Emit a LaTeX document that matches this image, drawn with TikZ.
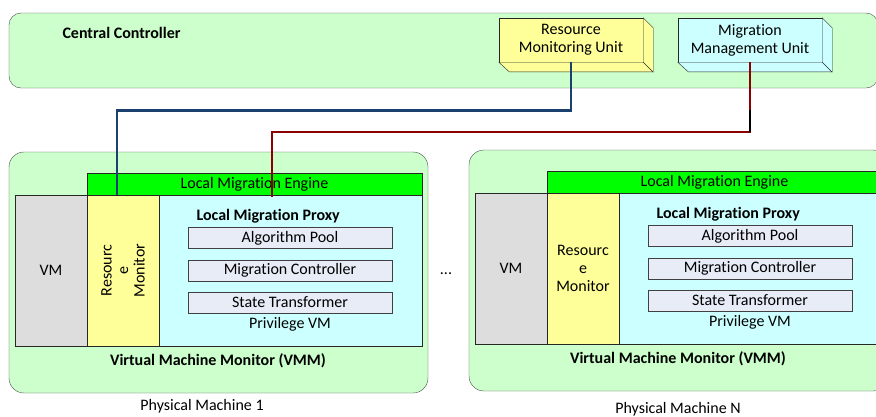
\documentclass[tikz,border=0pt]{standalone}
\usepackage{fontspec}
\setmainfont{Carlito}[Ligatures={NoCommon,NoContextual}, Contextuals=NoAlternate]
\definecolor{panelgreen}{HTML}{CCFFCC}
\definecolor{enginegreen}{HTML}{00FF00}
\definecolor{paleyellow}{HTML}{FFFF99}
\definecolor{palecyan}{HTML}{CCFFFF}
\definecolor{vmgray}{HTML}{DDDDDD}
\definecolor{poolblue}{HTML}{E7ECF7}
\definecolor{wireblue}{HTML}{1B3F6E}
\definecolor{wirered}{HTML}{8B0000}
\tikzstyle{box} = [draw=black!85, rectangle, inner sep=0pt, align=center]
\tikzstyle{panel} = [draw=black!70, fill=panelgreen, rectangle, inner sep=0pt]
\tikzstyle{part} = [box, fill=poolblue, draw=black!75, minimum width=204pt, minimum height=21pt]
\tikzstyle{wire} = [line width=2.8pt]

\begin{document}
\begin{tikzpicture}[x=1pt, y=-1pt, font=\fontsize{16}{18}\selectfont]
        \useasboundingbox (0,0) rectangle (876,416);
        \clip (0,0) rectangle (876,416);

        % central controller
        \node[panel, rounded corners=12pt, minimum width=869pt, minimum height=75pt] at (443.5,50.5) (cc) {};
        \node[anchor=west, font=\fontsize{16}{18}\selectfont\bfseries] at (59,33) (cctitle) {Central Controller};
        \node[box, fill=paleyellow, minimum width=144pt, minimum height=44pt] at (571,40) (rmu) {Resource\\Monitoring Unit};
        \draw[black!85, fill=paleyellow] (rmu.north east) -- ++(10,10) -- ++(0,44) -- ++(-144,0) -- (rmu.south west) -- (rmu.south east) -- cycle;
        \draw[black!85] (rmu.south east) -- ++(10,10);
        \node[box, fill=palecyan, minimum width=144pt, minimum height=44pt] at (750,40) (mmu) {Migration\\Management Unit};
        \draw[black!85, fill=palecyan] (mmu.north east) -- ++(10,10) -- ++(0,44) -- ++(-144,0) -- (mmu.south west) -- (mmu.south east) -- cycle;
        \draw[black!85] (mmu.south east) -- ++(10,10);

        % physical machine 1
        \node[panel, rounded corners=15pt, minimum width=419pt, minimum height=241pt] at (218.5,272.5) (pm1) {};
        \node[box, fill=enginegreen, minimum width=335pt, minimum height=22pt] at (254.5,184) (lme1) {Local Migration Engine};
        \node[box, fill=vmgray, minimum width=72pt, minimum height=151pt] at (51,270.5) (vm1) {VM};
        \node[box, fill=paleyellow, minimum width=72pt, minimum height=151pt] at (123,270.5) (rm1) {};
        \node[rotate=90, align=center, font=\fontsize{16}{16.5}\selectfont] at (rm1.center) {Resourc\\e\\Monitor};
        \node[box, fill=palecyan, minimum width=263pt, minimum height=151pt] at (290.5,270.5) (pv1) {};
        \node[anchor=west, font=\fontsize{16}{18}\selectfont\bfseries] at (193,216) (lmp1) {Local Migration Proxy};
        \node[part] at (290,238) (ap1) {Algorithm Pool};
        \node[part] at (290,270.5) (mc1) {Migration Controller};
        \node[part] at (290,302.5) (st1) {State Transformer};
        \node at (290,324) (pvm1) {Privilege VM};
        \node[font=\fontsize{16}{18}\selectfont\bfseries] at (218,361) (vmm1) {Virtual Machine Monitor (VMM)};
        \node at (202,406) (pm1label) {Physical Machine 1};

        \node at (446,274) (dots) {...};

        % physical machine N
        \node[panel, rounded corners=15pt, minimum width=419pt, minimum height=241pt] at (678.5,270.5) (pmn) {};
        \node[box, fill=enginegreen, minimum width=335pt, minimum height=22pt] at (714.5,182) (lmen) {Local Migration Engine};
        \node[box, fill=vmgray, minimum width=72pt, minimum height=151pt] at (511,268.5) (vmn) {VM};
        \node[box, fill=paleyellow, minimum width=72pt, minimum height=151pt, font=\fontsize{16}{18}\selectfont] at (583,268.5) (rmn) {Resourc\\e\\Monitor};
        \node[box, fill=palecyan, minimum width=263pt, minimum height=151pt] at (750.5,268.5) (pvn) {};
        \node[anchor=west, font=\fontsize{16}{18}\selectfont\bfseries] at (653,214) (lmpn) {Local Migration Proxy};
        \node[part] at (750,236) (apn) {Algorithm Pool};
        \node[part] at (750,268.5) (mcn) {Migration Controller};
        \node[part] at (750,300.5) (stn) {State Transformer};
        \node at (750,322) (pvmn) {Privilege VM};
        \node[font=\fontsize{16}{18}\selectfont\bfseries] at (678,359) (vmmn) {Virtual Machine Monitor (VMM)};
        \node at (678,409) (pmnlabel) {Physical Machine N};

        % wires
        \coordinate (rmtap) at (117,195);
        \coordinate (lmptap) at (272,197);
        \coordinate (mbend) at (750,132);
        \draw[wire, wireblue] (rmu.south) -- ++(0,48) -| (rmtap);
        \draw[wire, wirered] (mmu.south) -- (mbend) -| (lmptap);
        \draw[wire, black] (mbend) -- ++(0,-22);

    \end{tikzpicture}
\end{document}
